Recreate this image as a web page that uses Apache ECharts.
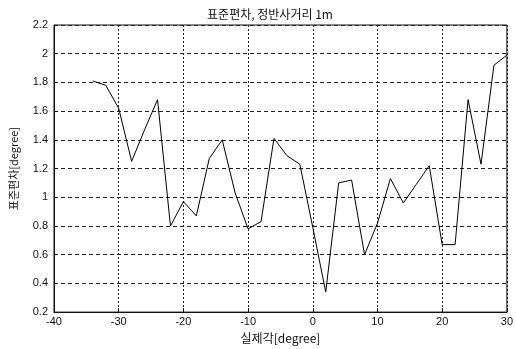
<!DOCTYPE html>
<html><head><meta charset="utf-8">
<script src="https://cdn.jsdelivr.net/npm/echarts@6/dist/echarts.min.js"></script>
<style>html,body{margin:0;padding:0;background:#fff}#c{width:516px;height:349px}</style>
</head><body><div id="c"></div>
<script>
const angles = [-34,-32,-30,-28,-26,-24,-22,-20,-18,-16,-14,-12,-10,-8,-6,-4,-2,0,2,4,6,8,10,12,14,16,18,20,22,24,26,28,30];
const stdDev = [1.81,1.78,1.62,1.25,1.47,1.68,0.80,0.97,0.87,1.27,1.40,1.03,0.78,0.83,1.41,1.29,1.23,0.79,0.34,1.10,1.12,0.60,0.82,1.13,0.96,1.09,1.22,0.67,0.67,1.68,1.23,1.92,1.99];
const titleText = '표준편차, 정반사거리 1m';
const xName = '실제각[degree]';
const yName = '표준편차[degree]';
const chart = echarts.init(document.getElementById('c'));
const tickFont = {color:'#111', fontSize:11, fontFamily:'Liberation Sans, Arial, sans-serif'};
chart.setOption({
  animation:false,
  title:{text:titleText, left:265, top:3, textAlign:'center',
    textStyle:{fontSize:12, fontWeight:'normal', color:'#111', fontFamily:'Noto Sans CJK KR, sans-serif'}},
  grid:{left:53, right:6, top:25, bottom:36, show:true, borderColor:'#111', borderWidth:1},
  xAxis:{type:'value', min:-40, max:30, interval:10,
    name:xName, nameLocation:'middle', nameGap:17,
    nameTextStyle:{fontSize:12, color:'#111', fontFamily:'Noto Sans CJK KR, sans-serif'},
    axisLine:{show:true, onZero:false, lineStyle:{color:'#111'}},
    axisTick:{show:true, inside:true, length:4, lineStyle:{color:'#111'}},
    axisLabel:Object.assign({margin:4}, tickFont),
    splitLine:{show:true, lineStyle:{color:'#222', type:[2,2], width:1}}},
  yAxis:{type:'value', min:0.2, max:2.2, interval:0.2,
    name:yName, nameLocation:'middle', nameGap:35, nameRotate:90,
    nameTextStyle:{fontSize:11, color:'#111', fontFamily:'Noto Sans CJK KR, sans-serif'},
    axisLine:{show:true, onZero:false, lineStyle:{color:'#111'}},
    axisTick:{show:true, inside:true, length:4, lineStyle:{color:'#111'}},
    axisLabel:Object.assign({margin:6, formatter:v=>String(+v.toFixed(1))}, tickFont),
    splitLine:{show:true, lineStyle:{color:'#222', type:[4,3], width:1}}},
  series:[{type:'line', data:angles.map((a,i)=>[a,stdDev[i]]), showSymbol:false,
    lineStyle:{color:'#000', width:1}}]
});
</script></body></html>
